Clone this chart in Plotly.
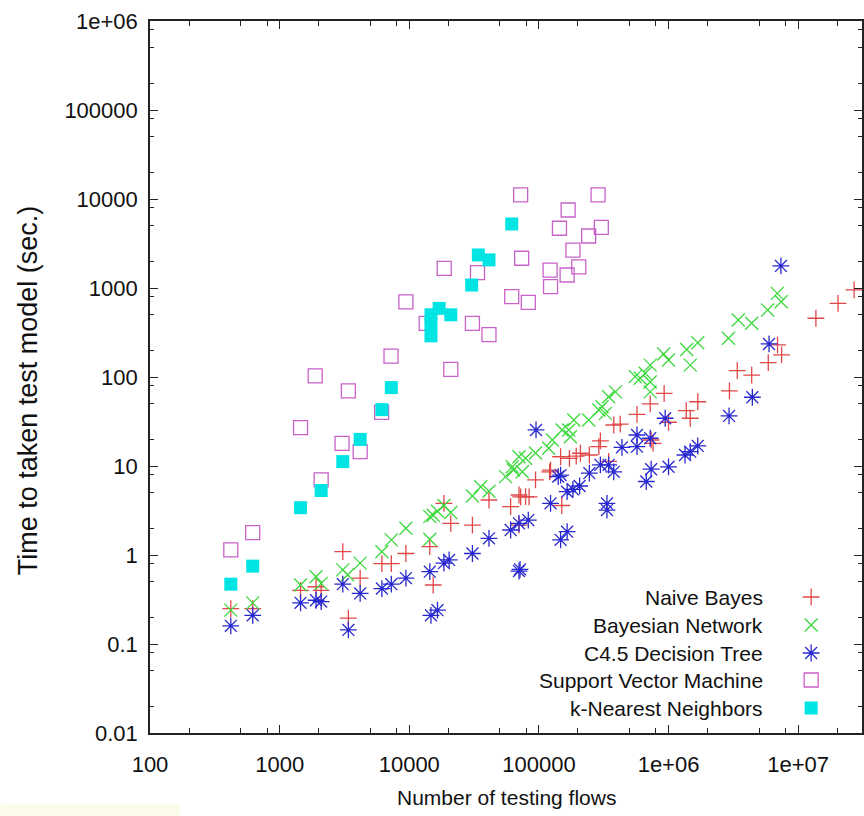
import plotly.graph_objects as go

# ---------------- data ----------------
nb_x = [420, 620, 1450, 1910, 2090, 3070, 3390, 4180, 6150, 7270, 9420, 14400, 15300,
        18500, 20900, 30700, 41200, 60500, 70200, 70200, 72300, 78900, 84000, 94200,
        121000, 123000, 147000, 150000, 172000, 194000, 209000, 245000, 290000, 298000,
        345000, 378000, 424000, 571000, 722000, 734000, 760000, 925000, 1.0e6, 1.37e6,
        1.47e6, 1.68e6, 2.95e6, 3.39e6, 4.38e6, 5.88e6, 6.93e6, 7.45e6, 1.37e7, 2.03e7, 2.7e7]
nb_y = [0.25, 0.25, 0.40, 0.44, 0.40, 1.09, 0.195, 0.55, 0.80, 0.80, 1.04, 1.24, 0.46,
        3.8, 2.27, 2.17, 4.15, 3.49, 2.17, 4.72, 4.5, 4.52, 4.5, 6.97,
        8.6, 9.0, 12.7, 3.6, 12.2, 12.9, 13.9, 13.3, 16.5, 19.2,
        11.3, 28.9, 29.6, 38, 50, 19.6, 18, 65.6, 31, 41.8,
        34.4, 52.7, 70, 118, 105, 145, 229, 177, 457, 673, 951]

bn_x = [420, 620, 1450, 1910, 2090, 3070, 3350, 4180, 6150, 7270, 9420, 14400, 14400,
        15300, 16500, 18500, 20900, 30700, 35600, 41200, 55300, 62300, 63600, 70200,
        74500, 78900, 94200, 119000, 127000, 151000, 170000, 175000, 186000, 242000,
        290000, 307000, 326000, 345000, 389000, 553000, 605000, 661000, 722000, 722000,
        722000, 916000, 1.0e6, 1.38e6, 1.47e6, 1.68e6, 2.9e6, 3.45e6, 4.38e6, 5.81e6,
        6.9e6, 7.4e6]
bn_y = [0.24, 0.29, 0.46, 0.57, 0.48, 0.68, 0.60, 0.81, 1.09, 1.48, 2.0, 2.7, 1.5,
        2.8, 3.1, 3.6, 3.0, 4.6, 5.85, 5.2, 7.6, 9.8, 9.0, 12.7,
        8.6, 12.2, 14, 15.8, 19.6, 25.4, 25.4, 21.3, 32.9, 32.9,
        42.6, 46.4, 39, 60, 68, 101, 97, 110, 136, 88,
        68, 181, 155, 204, 136, 243, 272, 437, 401, 566,
        870, 700]

c45_x = [420, 620, 1450, 1910, 2090, 3070, 3390, 4180, 6150, 7270, 9420, 14400, 14700,
         16500, 18500, 20300, 30700, 41200, 60500, 70200, 70200, 71500, 82800, 95000,
         123000, 141000, 147000, 147000, 165000, 165000, 183000, 206000, 245000, 298000,
         335000, 335000, 345000, 378000, 437000, 571000, 571000, 673000, 722000, 734000,
         1.0e6, 942000, 1.34e6, 1.47e6, 1.68e6, 2.93e6, 4.43e6, 5.96e6, 7.36e6]
c45_y = [0.16, 0.21, 0.29, 0.31, 0.30, 0.47, 0.144, 0.37, 0.42, 0.47, 0.55, 0.65, 0.21,
         0.24, 0.81, 0.88, 1.04, 1.54, 1.91, 2.27, 0.66, 0.69, 2.47, 25.4,
         3.81, 7.6, 1.48, 7.9, 1.83, 5.14, 5.46, 5.96, 8.3, 10.3,
         3.8, 3.2, 10.3, 8.6, 16.2, 22.3, 16.5, 6.7, 20.5, 9.2,
         9.8, 34.4, 13.3, 14.5, 16.8, 36.5, 59.2, 235, 1770]

svm_x = [420, 620, 1450, 1880, 2090, 3030, 3390, 4180, 6120, 7230, 9420, 13500, 18600,
         20900, 30700, 33600, 41200, 61700, 72300, 73600, 82800, 122000, 123000, 144000,
         165000, 168000, 183000, 203000, 242000, 286000, 303000]
svm_y = [1.14, 1.78, 27, 103, 7.0, 18, 70, 14.5, 40, 172, 700, 400, 1660,
         122, 400, 1490, 300, 800, 11100, 2160, 690, 1590, 1035, 4690,
         1400, 7520, 2670, 1730, 3840, 11100, 4810]

knn_x = [420, 620, 1450, 2090, 3070, 4180, 6150, 7270, 14700, 14700, 14700, 17000,
         20900, 30300, 34100, 41200, 61700]
knn_y = [0.47, 0.75, 3.4, 5.3, 11.2, 19.9, 43, 76, 290, 390, 500, 590,
         500, 1080, 2350, 2070, 5240]

series_names = ["Naive Bayes", "Bayesian Network", "C4.5 Decision Tree",
                "Support Vector Machine", "k-Nearest Neighbors"]

x_tickvals = [100, 1000, 10000, 100000, 1e6, 1e7]
x_ticktext = ["100", "1000", "10000", "100000", "1e+06", "1e+07"]
y_tickvals = [0.01, 0.1, 1, 10, 100, 1000, 10000, 100000, 1e6]
y_ticktext = ["0.01", "0.1", "1", "10", "100", "1000", "10000", "100000", "1e+06"]

# ---------------- styles ----------------
styles = [
    dict(symbol="cross-thin-open", size=12, color="#e04848", width=1.3),
    dict(symbol="x-thin-open", size=13, color="#3cd83c", width=1.3),
    dict(symbol="asterisk-open", size=14, color="#2828d0", width=1.3),
    dict(symbol="square-open", size=14, color="#c862c8", width=1.3),
    dict(symbol="square", size=13, color="#00e4e4", width=0),
]
data_pairs = [(nb_x, nb_y), (bn_x, bn_y), (c45_x, c45_y), (svm_x, svm_y), (knn_x, knn_y)]

FONT = "Liberation Sans, Arial, sans-serif"

fig = go.Figure()
draw_order = [3, 4, 0, 1, 2]
for i in draw_order:
    xs, ys = data_pairs[i]
    st = styles[i]
    fig.add_trace(go.Scatter(
        x=xs, y=ys, mode="markers", name=series_names[i], showlegend=False,
        marker=dict(symbol=st["symbol"], size=st["size"], color=st["color"],
                    line=dict(color=st["color"], width=st["width"])),
        cliponaxis=True,
    ))

# ---------------- gnuplot-style legend (text left, key right) ----------------
# overlay axes measured in pixels of the plot area
leg_rows = [597, 625, 653, 680, 708]
leg_text_x = 767
leg_key_x = 813
for i in range(5):
    st = styles[i]
    fig.add_trace(go.Scatter(
        x=[leg_key_x], y=[leg_rows[i]], xaxis="x2", yaxis="y2", mode="markers",
        showlegend=False, hoverinfo="skip",
        marker=dict(symbol=st["symbol"], size=st["size"], color=st["color"],
                    line=dict(color=st["color"], width=st["width"])),
    ))
    fig.add_annotation(x=leg_text_x, y=leg_rows[i], xref="x2", yref="y2",
                       text=series_names[i], showarrow=False, xanchor="right",
                       yanchor="middle", font=dict(family=FONT, size=21, color="#111111"))

minor_x = [m * 10 ** e for e in range(2, 8) for m in (2, 5, 8)]
minor_y = [m * 10 ** e for e in range(-2, 6) for m in (2, 5, 8)]

axis_common = dict(showline=True, linecolor="#222222", linewidth=1.6, mirror="ticks",
                   ticks="inside", ticklen=8, tickwidth=1.4, tickcolor="#222222",
                   showgrid=False, zeroline=False,
                   tickfont=dict(family=FONT, size=22, color="#111111"))

fig.update_layout(
    width=864, height=816, autosize=False,
    margin=dict(l=150, r=0, t=21, b=83),
    paper_bgcolor="white", plot_bgcolor="white",
    showlegend=False,
    xaxis=dict(type="log", range=[2, 2 + 714 / 130], tickmode="array",
               tickvals=x_tickvals, ticktext=x_ticktext, ticklabelstandoff=11,
               minor=dict(tickmode="array", tickvals=minor_x, ticks="inside",
                          ticklen=5, tickwidth=1.2, tickcolor="#222222", showgrid=False),
               **axis_common),
    yaxis=dict(type="log", range=[-2, 6], tickmode="array",
               tickvals=y_tickvals, ticktext=y_ticktext, ticklabelstandoff=6,
               minor=dict(tickmode="array", tickvals=minor_y, ticks="inside",
                          ticklen=4, tickwidth=1.2, tickcolor="#222222", showgrid=False),
               **axis_common),
    xaxis2=dict(overlaying="x", range=[150, 864], visible=False, anchor="y2"),
    yaxis2=dict(overlaying="y", range=[733, 21], visible=False, anchor="x2"),
)

# axis titles
fig.add_annotation(text="Number of testing flows", xref="paper", yref="paper",
                   x=0.5, y=(733 - 797) / 712, showarrow=False,
                   xanchor="center", yanchor="middle",
                   font=dict(family=FONT, size=21, color="#111111"))
fig.add_annotation(text="Time to taken test model (sec.)", xref="paper", yref="paper",
                   x=(28 - 150) / 714, y=(733 - 390) / 712, showarrow=False,
                   textangle=-90, xanchor="center", yanchor="middle",
                   font=dict(family=FONT, size=27, color="#111111"))

# faint yellowish scan artefact strip in the bottom-left corner
fig.add_shape(type="rect", xref="paper", yref="paper",
              x0=-150 / 714, x1=30 / 714, y0=(733 - 817) / 712, y1=(733 - 804) / 712,
              line=dict(width=0), fillcolor="#fdfbe9", layer="below")

fig.write_html("out.html", config={"displayModeBar": False},
               post_script="document.body.style.margin='0';")
